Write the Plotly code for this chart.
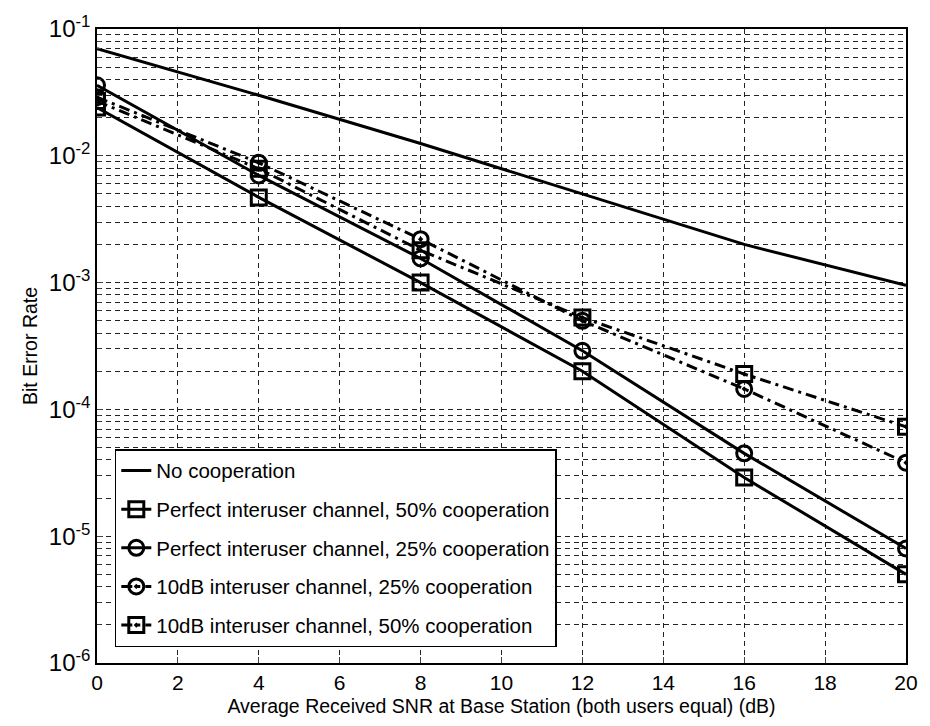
import plotly.graph_objects as go

# SNR points (dB)
snr = [0, 4, 8, 12, 16, 20]
snr_curve = [0, 4, 8, 12, 16, 20]

# Bit error rate for each scheme
ber_no_coop = [0.070, 0.030, 0.0125, 0.0050, 0.0020, 0.00095]
ber_perfect_50 = [0.024, 0.0047, 1.0e-3, 2.0e-4, 2.9e-5, 5.0e-6]
ber_perfect_25 = [0.036, 0.0070, 1.55e-3, 2.9e-4, 4.5e-5, 8.0e-6]
ber_10db_25 = [0.029, 0.0088, 2.2e-3, 5.0e-4, 1.45e-4, 3.8e-5]
ber_10db_50 = [0.027, 0.0079, 1.8e-3, 5.3e-4, 1.9e-4, 7.3e-5]

names = [
    "No cooperation",
    "Perfect interuser channel, 50% cooperation",
    "Perfect interuser channel, 25% cooperation",
    "10dB interuser channel, 25% cooperation",
    "10dB interuser channel, 50% cooperation",
]

y_tickvals = [1e-6, 1e-5, 1e-4, 1e-3, 1e-2, 1e-1]
y_ticktext = ["10<sup>-6</sup>", "10<sup>-5</sup>", "10<sup>-4</sup>",
              "10<sup>-3</sup>", "10<sup>-2</sup>", "10<sup>-1</sup>"]
y_minor = [m * 10 ** e for e in range(-6, -1) for m in range(2, 10)]
x_tickvals = list(range(0, 21, 2))

DASHDOT = "11px,5px,3px,5px"
LW = 3

fig = go.Figure()
fig.add_trace(go.Scatter(x=snr_curve, y=ber_no_coop, name=names[0], mode="lines",
                         legendgroup="g0",
                         line=dict(color="black", width=LW)))
fig.add_trace(go.Scatter(x=snr, y=ber_perfect_50, name=names[1], mode="lines+markers",
                         legendgroup="g1",
                         line=dict(color="black", width=LW),
                         marker=dict(symbol="square-open", size=15, color="black",
                                     line=dict(width=3))))
fig.add_trace(go.Scatter(x=snr, y=ber_perfect_25, name=names[2], mode="lines+markers",
                         legendgroup="g2",
                         line=dict(color="black", width=LW),
                         marker=dict(symbol="circle-open", size=15, color="black",
                                     line=dict(width=3))))
fig.add_trace(go.Scatter(x=snr, y=ber_10db_25, name=names[3], mode="lines+markers",
                         legendgroup="g3",
                         line=dict(color="black", width=LW, dash=DASHDOT),
                         marker=dict(symbol="circle-open-dot", size=15, color="black",
                                     line=dict(width=3))))
fig.add_trace(go.Scatter(x=snr, y=ber_10db_50, name=names[4], mode="lines+markers",
                         legendgroup="g4",
                         line=dict(color="black", width=LW, dash=DASHDOT),
                         marker=dict(symbol="square-open-dot", size=15, color="black",
                                     line=dict(width=3))))

font_family = "Liberation Sans, Arial, sans-serif"
grid_color = "#222222"

fig.update_layout(
    width=930, height=726,
    margin=dict(l=97, r=20, t=22, b=63),
    paper_bgcolor="white", plot_bgcolor="white",
    font=dict(family=font_family, color="black", size=19),
    legend=dict(x=0.022, y=0.025, xanchor="left", yanchor="bottom",
                bgcolor="white", bordercolor="black", borderwidth=1.5,
                font=dict(size=20.5, family=font_family),
                traceorder="grouped", tracegroupgap=9),
    showlegend=True,
)
fig.update_xaxes(
    range=[0, 20], tickvals=x_tickvals, ticks="inside", ticklen=6,
    tickfont=dict(size=21), showline=True, linecolor="black", linewidth=1.5,
    mirror=True, showgrid=True, gridcolor=grid_color, gridwidth=1,
    griddash="5px,4px", zeroline=False,
    title=dict(text="Average Received SNR at Base Station (both users equal) (dB)",
               font=dict(size=19.5), standoff=6),
)
fig.update_yaxes(
    type="log", range=[-6, -1], tickvals=y_tickvals, ticktext=y_ticktext,
    ticks="inside", ticklen=6, tickfont=dict(size=24),
    showline=True, linecolor="black", linewidth=1.5, mirror=True,
    showgrid=True, gridcolor=grid_color, gridwidth=1, griddash="5px,4px",
    minor=dict(tickvals=y_minor, showgrid=True, gridcolor=grid_color,
               gridwidth=1, griddash="5px,4px", ticks="inside", ticklen=4),
    zeroline=False,
    title=dict(text="Bit Error Rate", font=dict(size=19.5), standoff=6),
)

fig.write_html("out.html")
